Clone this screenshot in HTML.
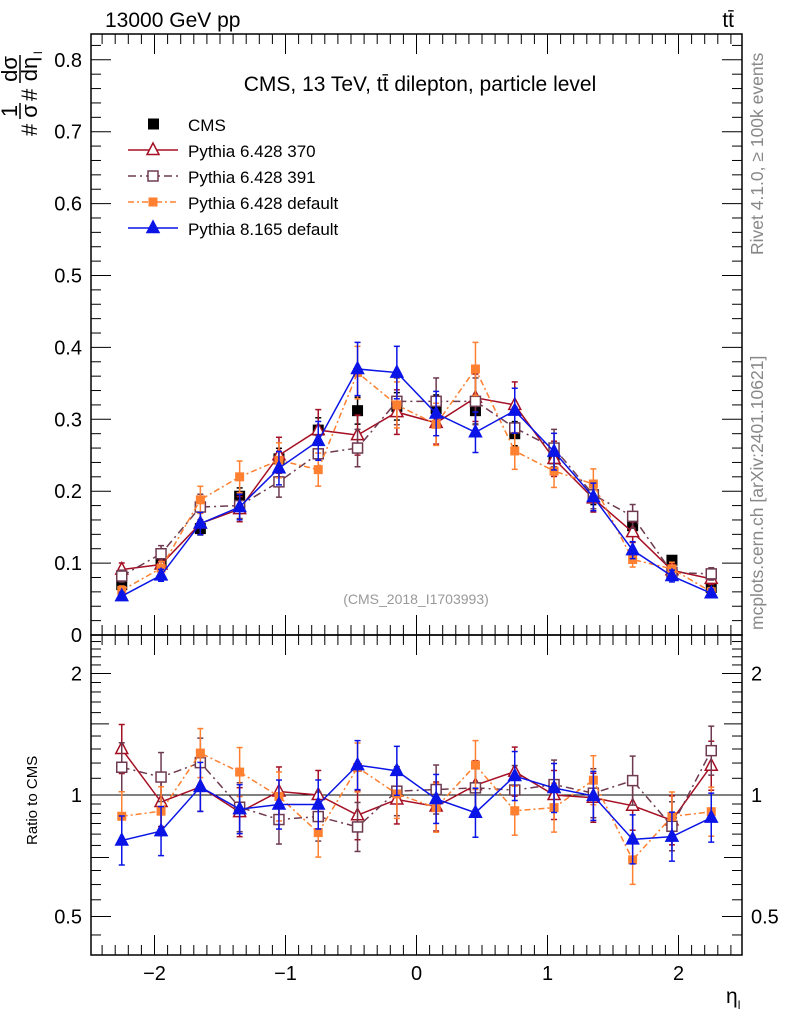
<!DOCTYPE html>
<html><head><meta charset="utf-8"><style>
body{margin:0;background:#fff;}
svg{display:block;font-family:"Liberation Sans",sans-serif;}
</style></head><body>
<svg id="c" width="786" height="1024" viewBox="0 0 786 1024">
<text x="105" y="27" font-size="21">13000 GeV pp</text>
<text x="734" y="27" font-size="21" text-anchor="end">tt̄</text>
<text x="420" y="91" font-size="21" text-anchor="middle">CMS, 13 TeV, tt̄ dilepton, particle level</text>
<text x="416" y="604" font-size="14" fill="#999" text-anchor="middle">(CMS_2018_I1703993)</text>
<text transform="translate(763,255) rotate(-90)" font-size="17.5" fill="#888">Rivet 4.1.0, ≥ 100k events</text>
<text transform="translate(763,630) rotate(-90)" font-size="17.5" fill="#888">mcplots.cern.ch [arXiv:2401.10621]</text>
<g transform="translate(37,136) rotate(-90)">
 <text x="0" y="0" font-size="22">#</text>
 <text x="25" y="-20" font-size="22" text-anchor="middle">1</text>
 <line x1="17" x2="33" y1="-17" y2="-17" stroke="#000" stroke-width="1.5"/>
 <text x="25" y="0" font-size="22" text-anchor="middle">σ</text>
 <text x="35" y="0" font-size="22">#</text>
 <text x="67" y="-20" font-size="22" text-anchor="middle">dσ</text>
 <line x1="53" x2="81" y1="-17" y2="-17" stroke="#000" stroke-width="1.5"/>
 <text x="67" y="0" font-size="22" text-anchor="middle">dη</text>
 <text x="82" y="5" font-size="12">l</text>
</g>
<text transform="translate(37,845) rotate(-90)" font-size="15">Ratio to CMS</text>
<text x="726" y="1003" font-size="21">η<tspan font-size="12" dy="6">l</tspan></text>
<g id="axes"></g><g id="marks"></g><g id="legend"></g>
</svg>
<script>
const centers=[-2.25,-1.95,-1.65,-1.35,-1.05,-0.75,-0.45,-0.15,0.15,0.45,0.75,1.05,1.35,1.65,1.95,2.25];
const cmsVals=[0.070,0.102,0.148,0.193,0.245,0.285,0.312,0.318,0.315,0.312,0.280,0.245,0.193,0.152,0.104,0.066];
const py370=[0.091,0.098,0.155,0.175,0.250,0.285,0.278,0.310,0.295,0.330,0.320,0.245,0.190,0.143,0.090,0.078];
const py391=[0.082,0.113,0.178,0.180,0.213,0.252,0.260,0.325,0.325,0.325,0.288,0.260,0.195,0.165,0.087,0.085];
const py6def=[0.062,0.093,0.188,0.220,0.243,0.230,0.365,0.320,0.293,0.370,0.256,0.228,0.210,0.105,0.092,0.060];
const py8def=[0.054,0.083,0.155,0.178,0.232,0.270,0.370,0.365,0.308,0.282,0.312,0.255,0.192,0.118,0.082,0.058];
const yTicks=[0.1,0.2,0.3,0.4,0.5,0.6,0.7,0.8];
const yTickLabels=["0.1","0.2","0.3","0.4","0.5","0.6","0.7","0.8"];
const rTicks=[0.5,1,2];
const rTickLabels=["0.5","1","2"];
const xTicks=[-2,-1,0,1,2];
const xTickLabels=["−2","−1","0","1","2"];

const L=91,R=742,T=34,MB=635,RB=955;
const X=e=>416.5+131*e;
const Y=v=>MB-719*v;
const RY=r=>795-121.5*Math.log2(r);
const NS="http://www.w3.org/2000/svg";
function mk(tag,at,par){const e=document.createElementNS(NS,tag);for(const k in at)e.setAttribute(k,at[k]);par.appendChild(e);return e;}
const ax=document.getElementById('axes'),mg=document.getElementById('marks'),lg=document.getElementById('legend');

let f=mk('rect',{x:L,y:T,width:R-L,height:MB-T,fill:'none',stroke:'#000','stroke-width':1.5},ax);

f=mk('rect',{x:L,y:MB,width:R-L,height:RB-MB,fill:'none',stroke:'#000','stroke-width':1.5},ax);

let ref=mk('line',{x1:L,x2:R,y1:RY(1),y2:RY(1),stroke:'#000','stroke-width':1},ax);


for(let i=1;i<=41;i++){const v=i*0.02;const y=Y(v);if(y<T)break;const maj=i%5==0;const l=maj?20:10;
 mk('line',{x1:L,x2:L+l,y1:y,y2:y,stroke:'#000'},ax);mk('line',{x1:R,x2:R-l,y1:y,y2:y,stroke:'#000'},ax);}
yTicks.forEach((v,i)=>{const t=mk('text',{x:L-9,y:Y(v)+7,'font-size':20,'text-anchor':'end'},ax);t.textContent=yTickLabels[i];
 });
let z=mk('text',{x:L-9,y:MB+7,'font-size':20,'text-anchor':'end'},ax);z.textContent='0';
const minorR=[0.45,0.5,0.55,0.6,0.65,0.7,0.75,0.8,0.85,0.9,0.95,1,1.1,1.2,1.3,1.4,1.5,1.6,1.7,1.8,1.9,2,2.1,2.2,2.3,2.4];
minorR.forEach(r=>{const y=RY(r);const maj=rTicks.includes(r);const l=maj?20:(r==1.5||r==0.7?18:10);
 mk('line',{x1:L,x2:L+l,y1:y,y2:y,stroke:'#000'},ax);mk('line',{x1:R,x2:R-l,y1:y,y2:y,stroke:'#000'},ax);});
rTicks.forEach((r,i)=>{let t=mk('text',{x:L-9,y:RY(r)+7,'font-size':20,'text-anchor':'end'},ax);t.textContent=rTickLabels[i];
 
 t=mk('text',{x:R+9,y:RY(r)+7,'font-size':20},ax);t.textContent=rTickLabels[i];
 });
for(let i=-24;i<=24;i++){const e=i/10;const x=X(e);if(x<L||x>R)continue;const maj=i%10==0;const l=maj?20:10;
 [MB,RB].forEach(b=>mk('line',{x1:x,x2:x,y1:b,y2:b-l,stroke:'#000'},ax));
 mk('line',{x1:x,x2:x,y1:T,y2:T+l,stroke:'#000'},ax);
 mk('line',{x1:x,x2:x,y1:MB,y2:MB+l,stroke:'#000'},ax);}
xTicks.forEach((e,i)=>{const t=mk('text',{x:X(e),y:RB+25,'font-size':20,'text-anchor':'middle'},ax);t.textContent=xTickLabels[i];
 });

const series=[
 {name:'pythia-6428-370',vals:py370,col:'#a50f24',dash:'',mk:'tri-open',label:'Pythia 6.428 370'},
 {name:'pythia-6428-391',vals:py391,col:'#6e3a50',dash:'8,4,2,4',mk:'sq-open',label:'Pythia 6.428 391'},
 {name:'pythia-6428-default',vals:py6def,col:'#ff8030',dash:'6,3,2,3',mk:'sq-fill',label:'Pythia 6.428 default'},
 {name:'pythia-8165-default',vals:py8def,col:'#0a14e6',dash:'',mk:'tri-fill',label:'Pythia 8.165 default'}];
function marker(par,type,x,y,col){
 if(type=='tri-open'||type=='tri-fill'){return mk('polygon',{points:`${x},${y-7} ${x-6},${y+4.5} ${x+6},${y+4.5}`,fill:type=='tri-fill'?col:'#fff',stroke:col,'stroke-width':1.5},par);}
 if(type=='sq-open')return mk('rect',{x:x-5,y:y-5,width:10,height:10,fill:'#fff',stroke:col,'stroke-width':1.5},par);
 return mk('rect',{x:x-4.5,y:y-4.5,width:9,height:9,fill:col},par);}
function errbar(par,x,y1,y2,col){mk('line',{x1:x,x2:x,y1:y1,y2:y2,stroke:col,'stroke-width':1.5},par);
 mk('line',{x1:x-3,x2:x+3,y1:y1,y2:y1,stroke:col,'stroke-width':1.5},par);mk('line',{x1:x-3,x2:x+3,y1:y2,y2:y2,stroke:col,'stroke-width':1.5},par);}

const cg=mk('g',{},mg);
centers.forEach((c,i)=>{const v=cmsVals[i];errbar(cg,X(c),Y(v*1.06),Y(v*0.94),'#000');mk('rect',{x:X(c)-5.5,y:Y(v)-5.5,width:11,height:11,fill:'#000'},cg);});

series.forEach(s=>{
 const g=mk('g',{},mg);
 const pts=centers.map((c,i)=>X(c)+','+Y(s.vals[i])).join(' ');
 mk('polyline',{points:pts,fill:'none',stroke:s.col,'stroke-width':1.5,'stroke-dasharray':s.dash},g);
 centers.forEach((c,i)=>{const v=s.vals[i];errbar(g,X(c),Y(v*1.1),Y(v*0.9),s.col);marker(g,s.mk,X(c),Y(v),s.col);});
 const rg=mk('g',{},mg);
 const rat=centers.map((c,i)=>s.vals[i]/cmsVals[i]);
 mk('polyline',{points:centers.map((c,i)=>X(c)+','+RY(rat[i])).join(' '),fill:'none',stroke:s.col,'stroke-width':1.5,'stroke-dasharray':s.dash},rg);
 centers.forEach((c,i)=>{const r=rat[i];errbar(rg,X(c),RY(r*1.15),RY(r/1.15),s.col);marker(rg,s.mk,X(c),RY(r),s.col);});
});

const ly=[124,150,176,202,228];
let e=mk('g',{},lg);
mk('rect',{x:148,y:ly[0]-5.5,width:11,height:11,fill:'#000'},e);
let t=mk('text',{x:188,y:ly[0]+7,'font-size':17},e);t.textContent='CMS';
series.forEach((s,i)=>{const g=mk('g',{},lg);
 const y=ly[i+1];mk('line',{x1:128,x2:178,y1:y,y2:y,stroke:s.col,'stroke-width':1.5,'stroke-dasharray':s.dash},g);
 marker(g,s.mk,153,y,s.col);const tt=mk('text',{x:188,y:y+7,'font-size':17},g);tt.textContent=s.label;});
</script>
</body></html>
